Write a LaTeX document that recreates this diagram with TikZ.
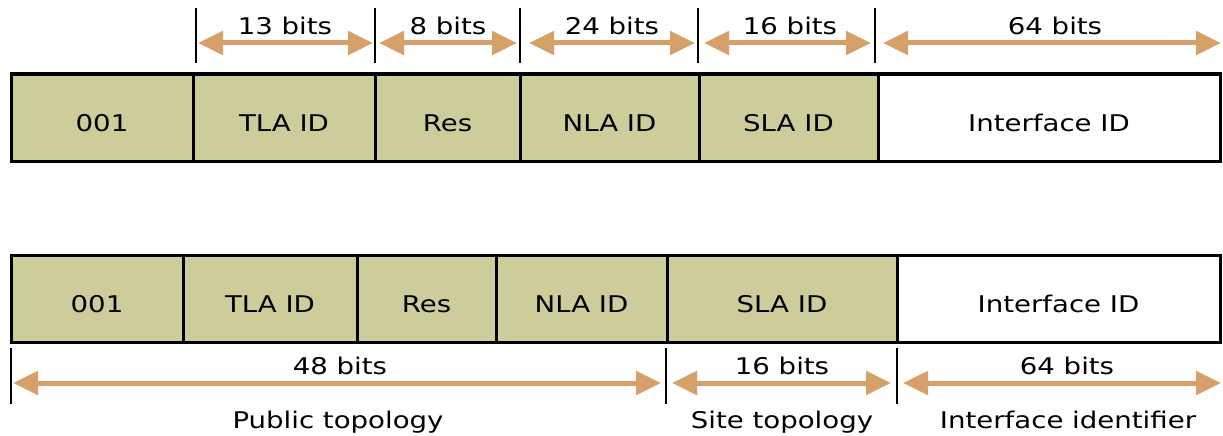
\documentclass[tikz,border=0pt]{standalone}
\usepackage{fontspec}
\setmainfont[FakeStretch=1.2]{DejaVu Sans}
\usetikzlibrary{arrows.meta}
\definecolor{olive}{RGB}{205,205,155}
\definecolor{tan}{RGB}{214,160,106}
\begin{document}
\begin{tikzpicture}[x=1pt,y=-1pt,
  field/.style={draw=black,line width=3pt,fill=olive,inner sep=0pt,minimum height=87pt,
    text height=27pt,text depth=0pt,font=\fontsize{23}{25}\selectfont},
  blank/.style={field,fill=white},
  tick/.style={line width=2.5pt,black},
  span/.style={line width=5pt,tan,{Triangle[length=25pt,width=23pt]}-{Triangle[length=25pt,width=23pt]}},
  lbl/.style={inner sep=0pt,anchor=base,font=\fontsize{23}{25}\selectfont}]
\useasboundingbox (0,0) rectangle (1223,436);
% top row
\node[field,minimum width=182pt] (a1) at (102,117.5) {001};
\node[field,minimum width=182pt] (a2) at (284,117.5) {TLA ID};
\node[field,minimum width=145pt] (a3) at (447.5,117.5) {Res};
\node[field,minimum width=179pt] (a4) at (609.5,117.5) {NLA ID};
\node[field,minimum width=179pt] (a5) at (788.5,117.5) {SLA ID};
\node[blank,minimum width=342pt] (a6) at (1049,117.5) {Interface ID};
% top ticks
\coordinate (t1a) at (196,8); \coordinate (t1b) at (196,63);
\coordinate (t2a) at (375,8); \coordinate (t2b) at (375,63);
\coordinate (t3a) at (520,8); \coordinate (t3b) at (520,63);
\coordinate (t4a) at (698,8); \coordinate (t4b) at (698,63);
\coordinate (t5a) at (875,8); \coordinate (t5b) at (875,63);
\foreach \i in {1,...,5} \draw[tick] (t\i a) -- (t\i b);
% top arrows
\coordinate (p1) at (198,43); \coordinate (p2) at (373,43);
\coordinate (p3) at (379,43); \coordinate (p4) at (517,43);
\coordinate (p5) at (529,43); \coordinate (p6) at (695,43);
\coordinate (p7) at (704,43); \coordinate (p8) at (871,43);
\coordinate (p9) at (883,43); \coordinate (p10) at (1221,43);
\draw[span] (p1) -- (p2); \draw[span] (p3) -- (p4); \draw[span] (p5) -- (p6);
\draw[span] (p7) -- (p8); \draw[span] (p9) -- (p10);
\node[lbl] (l1) at (285,35) {13 bits};
\node[lbl] (l2) at (448,35) {8 bits};
\node[lbl] (l3) at (612,35) {24 bits};
\node[lbl] (l4) at (790,35) {16 bits};
\node[lbl] (l5) at (1055,35) {64 bits};
% bottom row
\node[field,minimum width=172pt] (b1) at (97,298.5) {001};
\node[field,minimum width=174pt] (b2) at (270,298.5) {TLA ID};
\node[field,minimum width=139pt] (b3) at (426.5,298.5) {Res};
\node[field,minimum width=171pt] (b4) at (581.5,298.5) {NLA ID};
\node[field,minimum width=230pt] (b5) at (782,298.5) {SLA ID};
\node[blank,minimum width=323pt] (b6) at (1058.5,298.5) {Interface ID};
% bottom ticks
\coordinate (u1a) at (11,348); \coordinate (u1b) at (11,404);
\coordinate (u2a) at (666,348); \coordinate (u2b) at (666,404);
\coordinate (u3a) at (897,348); \coordinate (u3b) at (897,404);
\foreach \i in {1,2,3} \draw[tick] (u\i a) -- (u\i b);
\coordinate (q1) at (13,383); \coordinate (q2) at (661,383);
\coordinate (q3) at (672,383); \coordinate (q4) at (891,383);
\coordinate (q5) at (903,383); \coordinate (q6) at (1221,383);
\draw[span] (q1) -- (q2); \draw[span] (q3) -- (q4); \draw[span] (q5) -- (q6);
\node[lbl] (m1) at (340,374) {48 bits};
\node[lbl] (m2) at (782,374) {16 bits};
\node[lbl] (m3) at (1067,374) {64 bits};
\node[lbl] (c1) at (338,428) {Public topology};
\node[lbl] (c2) at (782,428) {Site topology};
\node[lbl] (c3) at (1068,428) {Interface identifier};
\end{tikzpicture}
\end{document}
